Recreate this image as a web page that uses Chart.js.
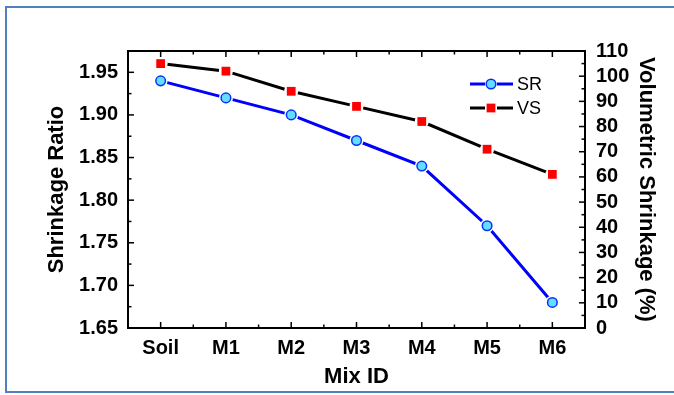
<!DOCTYPE html>
<html>
<head>
<meta charset="utf-8">
<script src="https://cdn.jsdelivr.net/npm/chart.js@4/dist/chart.umd.min.js"></script>
<style>
  html, body { margin: 0; padding: 0; background: #fff; }
  #frame { position: absolute; left: 5px; top: 6px; width: 700px; height: 383px; border: 2px solid #4f81bd; }
  #wrap { position: absolute; left: 0; top: 0; width: 674px; height: 395px; }
</style>
</head>
<body>
<div id="frame"></div>
<div id="wrap"><canvas id="chart" width="674" height="395"></canvas></div>
<script>
// data
const mixIds = ['Soil', 'M1', 'M2', 'M3', 'M4', 'M5', 'M6'];
const shrinkageRatio = [1.94, 1.92, 1.90, 1.87, 1.84, 1.77, 1.68];
const volumetricShrinkage = [105, 102, 94, 88, 82, 71, 61];
const ratioRange = [1.65, 1.975];
const ratioStep = 0.05;
const volumeRange = [0, 110];
const volumeStep = 10;

Chart.defaults.font.family = "'Liberation Sans', Arial, sans-serif";
Chart.defaults.color = '#000';

const tickFont = { size: 20, weight: 'bold' };
const titleFont = { size: 22, weight: 'bold' };

// inward ticks (major + minor) and the box round the plot
const frameTicks = {
  id: 'frameTicks',
  afterDatasetsDraw(chart) {
    const { ctx, chartArea: a, scales } = chart;
    const seg = (x1, y1, x2, y2) => { ctx.beginPath(); ctx.moveTo(x1, y1); ctx.lineTo(x2, y2); ctx.stroke(); };
    ctx.save();

    // Origin leaves a small gap in the line round each marker
    chart.data.datasets.forEach((ds, di) => {
      chart.getDatasetMeta(di).data.forEach(pt => {
        ctx.fillStyle = '#fff';
        ctx.beginPath();
        ctx.arc(pt.x, pt.y, 7, 0, Math.PI * 2);
        ctx.fill();
        pt.draw(ctx, a);
      });
    });

    ctx.strokeStyle = '#000';
    ctx.lineWidth = 1.5;

    const y = scales.y;
    for (let i = 0; ; i++) {
      const v = ratioRange[0] + i * ratioStep / 2;
      if (v > ratioRange[1] + 1e-9) break;
      const py = y.getPixelForValue(v);
      seg(a.left, py, a.left + (i % 2 === 0 ? 6 : 3.5), py);
    }

    const y1 = scales.y1;
    for (let i = 0; ; i++) {
      const v = volumeRange[0] + i * volumeStep / 2;
      if (v > volumeRange[1] + 1e-9) break;
      const py = y1.getPixelForValue(v);
      seg(a.right, py, a.right - (i % 2 === 0 ? 6 : 3.5), py);
    }

    const x = scales.x;
    mixIds.forEach((m, i) => {
      const px = x.getPixelForValue(i);
      seg(px, a.bottom, px, a.bottom - 6);
      seg(px, a.top, px, a.top + 6);
      if (i > 0) {
        const pb = x.getPixelForValue(i - 0.5);
        seg(pb, a.bottom, pb, a.bottom - 3.5);
        seg(pb, a.top, pb, a.top + 3.5);
      }
    });

    ctx.lineWidth = 2;
    ctx.strokeRect(a.left, a.top, a.right - a.left, a.bottom - a.top);
    ctx.restore();
  },
  afterDraw(chart) {
    // legend in Origin style: line - marker - line
    const { ctx } = chart;
    ctx.save();
    chart.data.datasets.forEach((ds, i) => {
      const ly = 84 + i * 24;
      ctx.strokeStyle = ds.borderColor;
      ctx.lineWidth = 3;
      ctx.beginPath();
      ctx.moveTo(470, ly); ctx.lineTo(485, ly);
      ctx.moveTo(497, ly); ctx.lineTo(513, ly);
      ctx.stroke();
      ctx.fillStyle = ds.pointBackgroundColor;
      ctx.strokeStyle = ds.pointBorderColor;
      ctx.lineWidth = ds.pointBorderWidth;
      Chart.helpers.drawPoint(ctx, {
        pointStyle: ds.pointStyle, radius: ds.pointRadius,
        borderWidth: ds.pointBorderWidth, rotation: 0
      }, 491, ly);
      ctx.fillStyle = '#000';
      ctx.font = "18px 'Liberation Sans', Arial, sans-serif";
      ctx.textBaseline = 'middle';
      ctx.textAlign = 'left';
      ctx.fillText(ds.label, 517, ly + 1);
    });
    ctx.restore();
  }
};

const ctx = document.getElementById('chart');
const myChart = new Chart(ctx, {
  type: 'line',
  data: {
    labels: mixIds,
    datasets: [{
      label: 'SR',
      data: shrinkageRatio,
      yAxisID: 'y',
      borderColor: '#0000ff',
      borderWidth: 3,
      tension: 0,
      pointStyle: 'circle',
      pointRadius: 4.8,
      pointBackgroundColor: '#66ddff',
      pointBorderColor: '#0033ff',
      pointBorderWidth: 1.5
    }, {
      label: 'VS',
      data: volumetricShrinkage,
      yAxisID: 'y1',
      borderColor: '#000000',
      borderWidth: 3,
      tension: 0,
      pointStyle: 'rect',
      pointRadius: 6.2,
      pointBackgroundColor: '#ff0000',
      pointBorderColor: '#ff0000',
      pointBorderWidth: 0
    }]
  },
  options: {
    responsive: false,
    animation: false,
    layout: { padding: { top: 51, left: 0, right: 0, bottom: 0 } },
    plugins: {
      legend: { display: false },
      tooltip: { enabled: false }
    },
    scales: {
      x: {
        offset: true,
        grid: { display: false, drawTicks: false },
        border: { display: false },
        ticks: { font: tickFont, padding: 8, autoSkip: false, maxRotation: 0 },
        title: { display: true, text: 'Mix ID', font: titleFont, padding: { top: 0, bottom: 5 } },
        afterFit(s) { s.height = 67; }
      },
      y: {
        position: 'left',
        min: ratioRange[0],
        max: ratioRange[1],
        grid: { display: false, drawTicks: false },
        border: { display: false },
        ticks: {
          stepSize: ratioStep,
          includeBounds: false,
          autoSkip: false,
          font: tickFont,
          padding: 10,
          callback: v => v.toFixed(2)
        },
        title: { display: true, text: 'Shrinkage Ratio', font: titleFont, padding: { top: 44, bottom: 0 } },
        afterFit(s) { s.width = 128; }
      },
      y1: {
        position: 'right',
        min: volumeRange[0],
        max: volumeRange[1],
        grid: { display: false, drawTicks: false },
        border: { display: false },
        ticks: { stepSize: volumeStep, autoSkip: false, font: tickFont, padding: 11 },
        title: { display: true, text: 'Volumetric Shrinkage (%)', font: titleFont, padding: { top: 15, bottom: 0 } },
        afterFit(s) { s.width = 89; }
      }
    }
  },
  plugins: [frameTicks]
});
</script>
</body>
</html>
